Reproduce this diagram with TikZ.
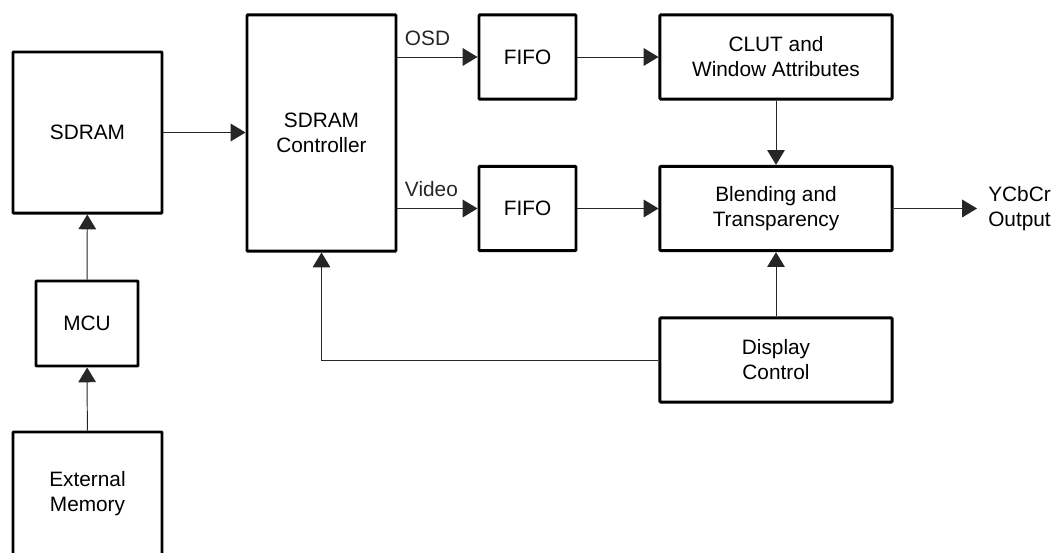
\documentclass[tikz,border=0pt]{standalone}
\usepackage{fontspec}
\setmainfont{Liberation Sans}
\usetikzlibrary{positioning, arrows.meta}

\begin{document}
\begin{tikzpicture}[
  x=0.025cm, y=-0.025cm,
  every node/.style={font=\fontsize{14.8}{17.8}\selectfont},
  blk/.style={draw, line width=2.1pt, rounded corners=0.6pt, align=center, inner sep=0pt},
  arr/.style={-{Triangle[length=10.5pt, width=12.5pt]}, line width=0.7pt, black!85},
  lbl/.style={align=left, inner sep=0pt}
]
\useasboundingbox (0,0) rectangle (1054,553);

% ---------- Memory side ----------
\node[blk, minimum width=3.725cm, minimum height=4.025cm] (sdram) at (87.5,132.5) {SDRAM};
\node[blk, minimum width=2.55cm, minimum height=2.125cm] (mcu) at (87,323.5) {MCU};
\node[blk, minimum width=3.725cm, minimum height=3.1cm] (extmem) at (87.5,494) {External\\Memory};

% ---------- Controller ----------
\node[blk, minimum width=3.725cm, minimum height=5.9cm] (ctrl) at (321.5,133) {SDRAM\\Controller};

% ---------- FIFOs ----------
\node[blk, minimum width=2.425cm, minimum height=2.11cm] (fifoosd) at (527.5,57) {FIFO};
\node[blk, minimum width=2.425cm, minimum height=2.11cm] (fifovid) at (527.5,208.5) {FIFO};

% ---------- Output path ----------
\node[blk, minimum width=5.8cm, minimum height=2.11cm] (clut) at (776,57) {CLUT and\\Window Attributes};
\node[blk, minimum width=5.8cm, minimum height=2.11cm] (blend) at (776,208.5) {Blending and\\Transparency};
\node[blk, minimum width=5.8cm, minimum height=2.11cm] (disp) at (776,360) {Display\\Control};
\node[lbl, anchor=west, inner xsep=0.275cm] (out) at (977,208.5) {YCbCr\\Output};

% ---------- Arrows ----------
\draw[arr] (extmem) -- (mcu);
\draw[arr] (mcu) -- (sdram);
\draw[arr] (sdram) -- (ctrl.west |- sdram);
\draw[arr] (ctrl.east |- fifoosd) node[lbl, anchor=south west, xshift=0.175cm, yshift=0.275cm] (osdlbl) {OSD} -- (fifoosd);
\draw[arr] (ctrl.east |- fifovid) node[lbl, anchor=south west, xshift=0.175cm, yshift=0.275cm] (vidlbl) {Video} -- (fifovid);
\draw[arr] (fifoosd) -- (clut);
\draw[arr] (fifovid) -- (blend);
\draw[arr] (clut) -- (blend);
\draw[arr] (disp) -- (blend);
\draw[arr] (blend) -- (out);
\draw[arr] (disp.west) -| (ctrl.south);

\end{tikzpicture}
\end{document}
